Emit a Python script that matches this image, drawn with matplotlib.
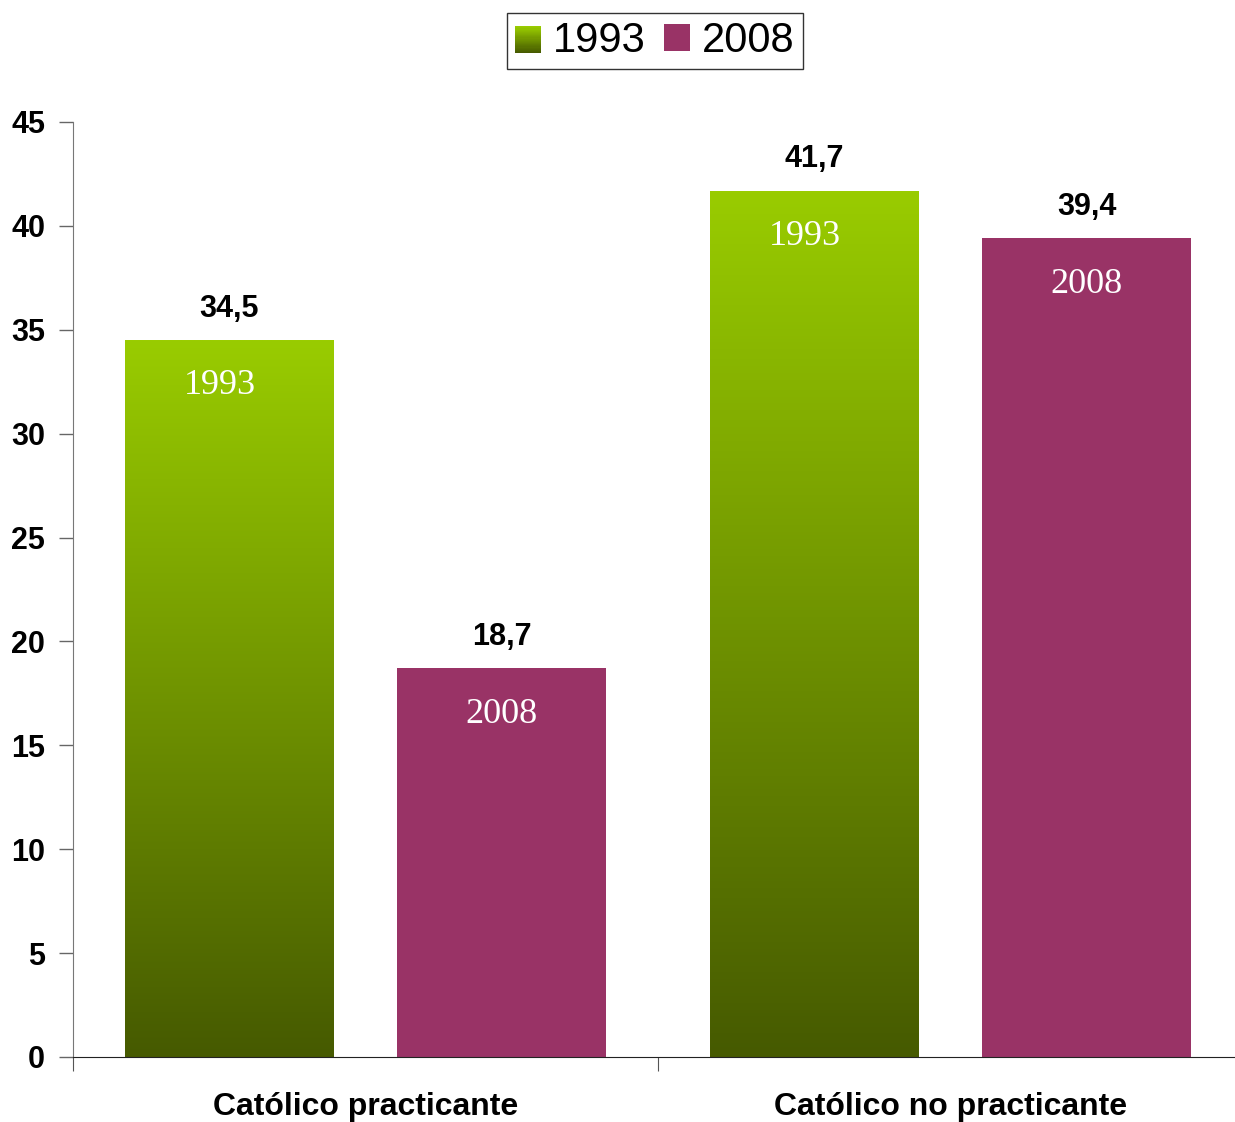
import numpy as np
import matplotlib
matplotlib.use("Agg")
import matplotlib.pyplot as plt
from matplotlib.colors import LinearSegmentedColormap
from matplotlib.patches import Rectangle
from matplotlib.legend_handler import HandlerBase

# data
categories = ["Católico practicante", "Católico no practicante"]
years = ["1993", "2008"]
vals_1993 = [34.5, 41.7]
vals_2008 = [18.7, 39.4]
labels_1993 = ["34,5", "41,7"]
labels_2008 = ["18,7", "39,4"]

plt.rcParams["font.family"] = ["Liberation Sans", "DejaVu Sans"]

GREEN_TOP = "#99cc00"
GREEN_BOT = "#465a00"
MAGENTA = "#993366"
green_cmap = LinearSegmentedColormap.from_list("grn", [GREEN_BOT, GREEN_TOP])

fig = plt.figure(figsize=(12.35, 11.22), dpi=100)
ax = fig.add_axes([73 / 1235, 65 / 1122, 1170 / 1235, 935 / 1122])

x = np.arange(len(categories))
w = 0.357
off = 0.233

# 1993 bars: invisible bar + gradient image clipped to it
bars_g = ax.bar(x - off, vals_1993, w, color="none", edgecolor="none", zorder=2)
grad = np.linspace(0, 1, 256).reshape(-1, 1)
for b in bars_g:
    x0, h = b.get_x(), b.get_height()
    im = ax.imshow(grad, cmap=green_cmap, origin="lower", aspect="auto",
                   extent=(x0, x0 + b.get_width(), 0, h), zorder=2)
    im.set_clip_path(b)

bars_m = ax.bar(x + off, vals_2008, w, color=MAGENTA, edgecolor="none", zorder=2)

for bars, labs, yr, dx in [(bars_g, labels_1993, years[0], -0.015),
                           (bars_m, labels_2008, years[1], 0.0)]:
    for b, lab in zip(bars, labs):
        cx = b.get_x() + b.get_width() / 2
        ax.text(cx, b.get_height() + 0.8, lab, ha="center", va="bottom",
                fontsize=22, fontweight="bold")
        ax.text(cx + dx, b.get_height() - 2.2, yr, ha="center", va="center",
                fontsize=26, color="white", family="Liberation Serif")

ax.set_xlim(-0.5, 1.5)
ax.set_ylim(0, 45)
ax.set_yticks(range(0, 46, 5))
ax.set_xticks([-0.5, 0.5, 1.5])
ax.set_xticklabels([])
ax.set_xticks(x, minor=True)
ax.set_xticklabels(categories, minor=True, fontsize=23, fontweight="bold")
ax.tick_params(axis="x", which="minor", length=0, pad=25)
ax.tick_params(axis="x", which="major", length=10, direction="out", color="#555555")
ax.tick_params(axis="y", length=10, width=1, color="#666666", pad=10)
for t in ax.get_yticklabels():
    t.set_fontsize(22)
    t.set_fontweight("bold")

for s in ["top", "right"]:
    ax.spines[s].set_visible(False)
ax.spines["left"].set_color("#777777")
ax.spines["bottom"].set_color("#222222")


class GradHandler(HandlerBase):
    def create_artists(self, legend, orig_handle, xd, yd, width, height, fontsize, trans):
        n = 24
        arts = []
        for i in range(n):
            c = green_cmap(i / (n - 1))
            arts.append(Rectangle((xd, yd + height * i / n), width, height / n + 0.3,
                                  facecolor=c, edgecolor="none", transform=trans))
        return arts


h1 = Rectangle((0, 0), 1, 1)
h2 = Rectangle((0, 0), 1, 1, facecolor=MAGENTA, edgecolor="none")
leg = fig.legend([h1, h2], years, loc="center", bbox_to_anchor=(655 / 1235, 1 - 41 / 1122),
                 ncol=2, fontsize=30, frameon=True, fancybox=False, edgecolor="black",
                 handlelength=0.62, handleheight=0.62, handletextpad=0.28, columnspacing=0.45,
                 borderpad=0.2, handler_map={h1: GradHandler()})
leg.get_frame().set_linewidth(1.0)

fig.savefig("out.png", dpi=100)
